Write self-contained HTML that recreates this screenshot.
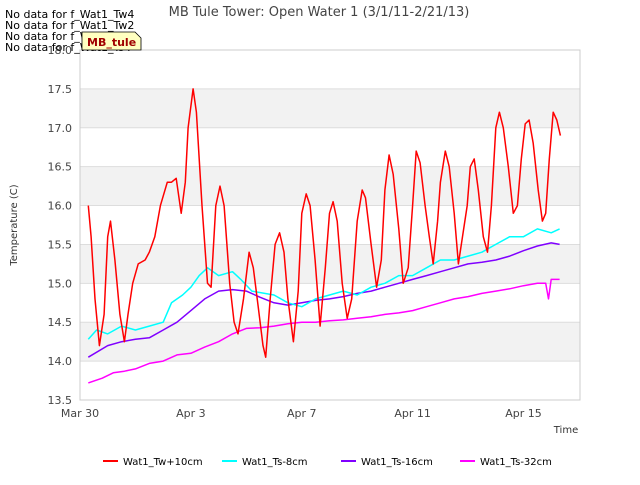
<!DOCTYPE html>
<html><head><meta charset="utf-8"><style>
body{margin:0;background:#fff;font-family:"Liberation Sans",sans-serif;}
svg text{font-family:"DejaVu Sans","Liberation Sans",sans-serif;}
</style></head><body>
<svg id="c" width="640" height="480" xmlns="http://www.w3.org/2000/svg">
<text x="319" y="16" text-anchor="middle" font-size="13" fill="#444">MB Tule Tower: Open Water 1 (3/1/11-2/21/13)</text>
<g id="plot"></g>
<g font-size="11" fill="#000">
<text x="5" y="18">No data for f_Wat1_Tw4</text>
<text x="5" y="29">No data for f_Wat1_Tw2</text>
<text x="5" y="40">No data for f_Wat1_Ts2</text>
<text x="5" y="51">No data for f_Wat1_Ts4</text>
</g>
<g><path d="M82 32 H135 L141 38 V50 H82 Z" fill="#ffffc0" stroke="#000" stroke-width="0.8"/><text x="87" y="46" font-size="11" font-weight="bold" fill="#a00000">MB_tule</text></g>
<text transform="translate(17,225) rotate(-90)" text-anchor="middle" font-size="10" fill="#333">Temperature (C)</text>
<text x="566" y="433" text-anchor="middle" font-size="10" fill="#333">Time</text>
<g id="legend" font-size="10" fill="#000"></g>
</svg>
<script>
const yTicks=[13.5,14.0,14.5,15.0,15.5,16.0,16.5,17.0,17.5,18.0];
const xTickDays=[0,4,8,12,16];
const xTickLabels=["Mar 30","Apr 3","Apr 7","Apr 11","Apr 15"];
const seriesNames=["Wat1_Tw+10cm","Wat1_Ts-8cm","Wat1_Ts-16cm","Wat1_Ts-32cm"];
const seriesColors=["#ff0000","#00ffff","#8000ff","#ff00ff"];
const redT=[0.3,0.4,0.54,0.7,0.87,1.0,1.1,1.26,1.44,1.6,1.73,1.9,2.1,2.35,2.5,2.7,2.9,3.15,3.3,3.47,3.65,3.8,3.9,4.08,4.2,4.4,4.6,4.73,4.9,5.05,5.2,5.4,5.56,5.7,5.9,6.1,6.25,6.43,6.6,6.7,6.86,7.04,7.2,7.36,7.5,7.7,7.87,8.0,8.16,8.3,8.48,8.66,8.85,9.0,9.13,9.28,9.46,9.64,9.8,10.0,10.18,10.3,10.5,10.7,10.87,11.0,11.15,11.3,11.5,11.66,11.84,12.0,12.13,12.27,12.45,12.6,12.74,12.9,13.0,13.18,13.32,13.5,13.65,13.8,13.97,14.08,14.22,14.37,14.55,14.7,14.84,15.0,15.13,15.27,15.45,15.63,15.78,15.92,16.06,16.2,16.35,16.53,16.68,16.8,16.93,17.07,17.2,17.33];
const redV=[16.0,15.6,14.8,14.2,14.6,15.6,15.8,15.3,14.6,14.25,14.6,15.0,15.25,15.3,15.4,15.6,16.0,16.3,16.3,16.35,15.9,16.3,17.0,17.5,17.2,16.0,15.0,14.95,16.0,16.25,16.0,15.0,14.5,14.35,14.8,15.4,15.2,14.7,14.2,14.05,14.8,15.5,15.65,15.4,14.8,14.25,14.9,15.9,16.15,16.0,15.3,14.45,15.2,15.9,16.05,15.8,15.0,14.55,14.8,15.8,16.2,16.1,15.5,14.95,15.3,16.2,16.65,16.4,15.7,15.0,15.2,16.0,16.7,16.55,16.0,15.6,15.25,15.8,16.3,16.7,16.5,15.9,15.25,15.6,16.0,16.5,16.6,16.2,15.6,15.4,16.0,17.0,17.2,17.0,16.5,15.9,16.0,16.6,17.05,17.1,16.8,16.2,15.8,15.9,16.6,17.2,17.1,16.9];
const cyanT=[0.3,0.6,1,1.5,2,2.5,3,3.3,3.7,4,4.3,4.6,5,5.5,5.8,6.2,7,7.5,8,8.5,9,9.5,10,10.5,11,11.5,12,12.5,13,13.5,14,14.5,15,15.5,16,16.5,17,17.3];
const cyanV=[14.28,14.4,14.35,14.45,14.4,14.45,14.5,14.75,14.85,14.95,15.1,15.2,15.1,15.15,15.05,14.9,14.85,14.75,14.7,14.8,14.85,14.9,14.85,14.95,15.0,15.1,15.1,15.2,15.3,15.3,15.35,15.4,15.5,15.6,15.6,15.7,15.65,15.7];
const purpleT=[0.3,1,1.5,2,2.5,3,3.5,4,4.5,5,5.5,6,6.5,7,7.5,8,8.5,9,9.5,10,10.5,11,11.5,12,12.5,13,13.5,14,14.5,15,15.5,16,16.5,17,17.3];
const purpleV=[14.05,14.2,14.25,14.28,14.3,14.4,14.5,14.65,14.8,14.9,14.92,14.9,14.82,14.75,14.72,14.75,14.78,14.8,14.83,14.87,14.9,14.95,15.0,15.05,15.1,15.15,15.2,15.25,15.27,15.3,15.35,15.42,15.48,15.52,15.5];
const magT=[0.3,0.8,1.2,1.6,2,2.5,3,3.5,4,4.5,5,5.5,6,6.5,7,7.5,8,8.5,9,9.5,10,10.5,11,11.5,12,12.5,13,13.5,14,14.5,15,15.5,16,16.5,16.8,16.9,17,17.3];
const magV=[13.72,13.78,13.85,13.87,13.9,13.97,14.0,14.08,14.1,14.18,14.25,14.35,14.42,14.43,14.45,14.48,14.5,14.5,14.52,14.53,14.55,14.57,14.6,14.62,14.65,14.7,14.75,14.8,14.83,14.87,14.9,14.93,14.97,15.0,15.0,14.8,15.05,15.05];

const NS="http://www.w3.org/2000/svg";
const L=80,R=580,T=50,B=400;
const xs=d=>L+d*27.72;
const ys=v=>B-(v-13.5)/4.5*(B-T);
const plot=document.getElementById('plot');
function mk(tag,attrs,parent){const e=document.createElementNS(NS,tag);for(const k in attrs)e.setAttribute(k,attrs[k]);parent.appendChild(e);return e;}
mk('rect',{x:L,y:T,width:R-L,height:B-T,fill:'#fff'},plot);
for(let i=0;i<yTicks.length-1;i++){
  if(i%2===1){const r=mk('rect',{x:L,y:ys(yTicks[i+1]),width:R-L,height:ys(yTicks[i])-ys(yTicks[i+1]),fill:'#f2f2f2'},plot);
  
  }
}
yTicks.forEach(v=>{
  const l=mk('line',{x1:L,x2:R,y1:ys(v),y2:ys(v),stroke:'#ddd','stroke-width':1},plot);
  
  
  const t=mk('text',{x:L-8,y:ys(v)+4,'text-anchor':'end','font-size':11,fill:'#444'},plot);
  t.textContent=v.toFixed(1);
  
  
});
xTickDays.forEach((d,i)=>{
  const t=mk('text',{x:xs(d),y:417,'text-anchor':'middle','font-size':11,fill:'#444'},plot);
  t.textContent=xTickLabels[i];
  
  
});
mk('rect',{x:L,y:T,width:R-L,height:B-T,fill:'none',stroke:'#ccc'},plot);
const sets=[[redT,redV],[cyanT,cyanV],[purpleT,purpleV],[magT,magV]];
for(let s=3;s>=0;s--){
  const [tt,vv]=sets[s];
  const p=mk('polyline',{points:tt.map((d,i)=>xs(d).toFixed(1)+','+ys(vv[i]).toFixed(1)).join(' '),fill:'none',stroke:seriesColors[s],'stroke-width':1.5,'stroke-linejoin':'round'},plot);
  
  
}
const lg=document.getElementById('legend');
const lx=[103,222,341,460];
seriesNames.forEach((n,i)=>{
  const g=mk('g',{},lg);
  
  
  mk('line',{x1:lx[i],x2:lx[i]+15,y1:461,y2:461,stroke:seriesColors[i],'stroke-width':2},g);
  const t=mk('text',{x:lx[i]+20,y:465,'font-size':10},g);
  t.textContent=n;
});
</script>
</body></html>
